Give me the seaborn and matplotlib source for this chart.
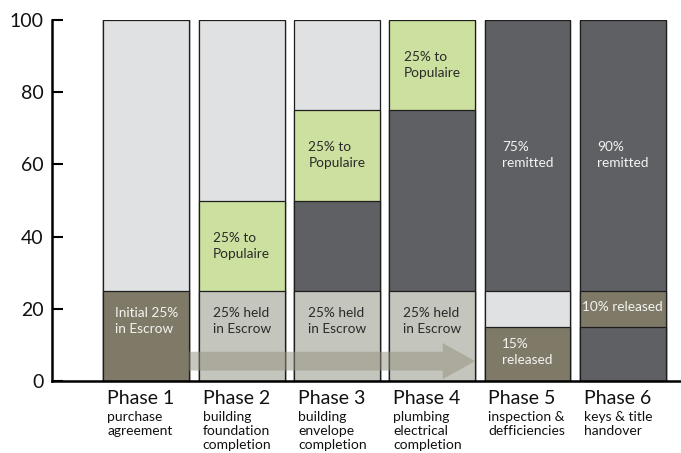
import matplotlib
matplotlib.use("Agg")
import matplotlib.pyplot as plt
import seaborn as sns
import pandas as pd
import numpy as np
from matplotlib.patches import FancyArrow

# ---------------- data ----------------
phases = ["Phase 1", "Phase 2", "Phase 3", "Phase 4", "Phase 5", "Phase 6"]
subtitles = ["purchase\nagreement",
             "building\nfoundation\ncompletion",
             "building\nenvelope\ncompletion",
             "plumbing\nelectrical\ncompletion",
             "inspection &\ndefficiencies",
             "keys & title\nhandover"]

# stacked segments (percent), bottom to top
seg1 = [25, 25, 25, 25, 15, 15]
seg2 = [75, 25, 25, 50, 10, 10]
seg3 = [0, 50, 25, 25, 75, 75]
seg4 = [0, 0, 25, 0, 0, 0]

kind1 = ["escrow", "held", "held", "held", "escrow", "remitted"]
kind2 = ["pending", "populaire", "remitted", "remitted", "pending", "escrow"]
kind3 = ["pending", "pending", "populaire", "populaire", "remitted", "remitted"]
kind4 = ["pending", "pending", "pending", "pending", "pending", "pending"]

lab1 = ["Initial 25%\nin Escrow", "25% held\nin Escrow", "25% held\nin Escrow",
        "25% held\nin Escrow", "15%\nreleased", ""]
lab2 = ["", "25% to\nPopulaire", "", "", "", "10% released"]
lab3 = ["", "", "25% to\nPopulaire", "25% to\nPopulaire", "75%\nremitted", "90%\nremitted"]
lab4 = ["", "", "", "", "", ""]

yticks = [0, 20, 40, 60, 80, 100]

# ---------------- style ----------------
kind_colors = {
    "escrow": "#7f7a68",
    "held": "#c4c5bd",
    "pending": "#e0e1e3",
    "populaire": "#cce09f",
    "remitted": "#5f6064",
}
text_colors = {
    "escrow": "#f4f4f0",
    "held": "#2a2a2a",
    "pending": "#2a2a2a",
    "populaire": "#2a2a2a",
    "remitted": "#f4f4f4",
}

sns.set_theme(style="white")
plt.rcParams["font.family"] = ["Lato", "DejaVu Sans"]

fig = plt.figure(figsize=(6.81, 4.53), dpi=100)
ax = fig.add_axes([52 / 681, 72 / 453, 1 - 52 / 681, 361 / 453])

segs = [seg1, seg2, seg3, seg4]
kinds = [kind1, kind2, kind3, kind4]
labs = [lab1, lab2, lab3, lab4]
cum = np.cumsum(np.array(segs), axis=0)
bottoms = cum - np.array(segs)

# painter's approach: draw tallest cumulative layer first
for layer in range(len(segs) - 1, -1, -1):
    df = pd.DataFrame({"phase": phases, "top": cum[layer]})
    pal = {p: kind_colors[k] for p, k in zip(phases, kinds[layer])}
    sns.barplot(data=df, x="phase", y="top", hue="phase", palette=pal,
                legend=False, width=0.9, edgecolor="#1e1e1e", linewidth=0.9,
                saturation=1, ax=ax, zorder=2)

# segment labels
for layer in range(len(segs)):
    for i, p in enumerate(phases):
        t = labs[layer][i]
        if not t:
            continue
        h = segs[layer][i]
        b = bottoms[layer][i]
        frac = 0.66 if (b == 0 and h == 25) else 0.5
        y = b + h * frac + (0.6 if h < 20 else 0)
        ax.text(i, y, t, ha="center", va="center", multialignment="left",
                fontsize=9.8, color=text_colors[kinds[layer][i]],
                linespacing=1.4, zorder=5)

# progress arrow from end of phase 1 to end of phase 4
half = 0.45
x0 = 0 + half
x1 = 3 + half
arrow = FancyArrow(x0, 5.5, x1 - x0, 0, width=5.2, head_width=10,
                   head_length=0.34, length_includes_head=True,
                   facecolor="#93917f", edgecolor="none", alpha=0.5, zorder=4)
ax.add_patch(arrow)

# axes
ax.set_xlim(-0.99, 5.61)
ax.set_ylim(0, 100)
ax.set_yticks(yticks)
ax.set_yticklabels([str(v) for v in yticks])
ax.set_xticks([])
ax.set_xlabel("")
ax.set_ylabel("")
ax.tick_params(axis="y", direction="in", length=8, width=1.5, color="black",
               labelsize=14, pad=6, labelcolor="#111111", left=True)
for s in ["top", "right"]:
    ax.spines[s].set_visible(False)
for s in ["left", "bottom"]:
    ax.spines[s].set_color("black")
    ax.spines[s].set_linewidth(1.8)
ax.set_facecolor("white")

# x category labels
for i, (p, sub) in enumerate(zip(phases, subtitles)):
    ax.text(i - half + 0.04, -2.5, p, ha="left", va="top", fontsize=14,
            color="#111111", clip_on=False)
    ax.text(i - half + 0.04, -8.2, sub, ha="left", va="top", fontsize=10,
            color="#111111", linespacing=1.22, clip_on=False)

fig.savefig("out.png", dpi=100)
